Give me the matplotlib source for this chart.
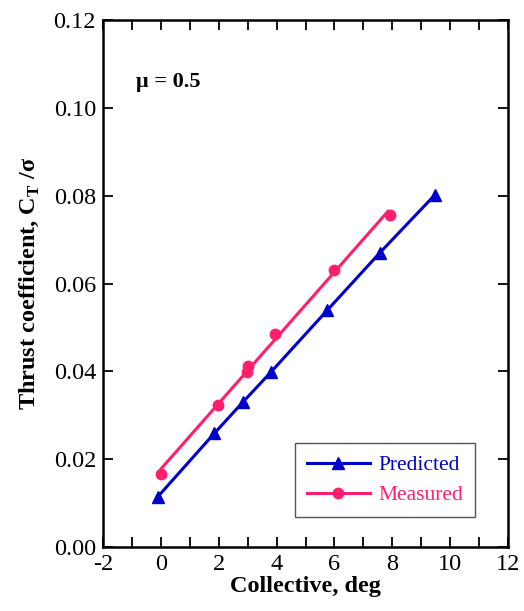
import numpy as np
import matplotlib.pyplot as plt
from matplotlib.lines import Line2D
from matplotlib.ticker import MultipleLocator

plt.rcParams['font.family'] = ['Liberation Serif', 'DejaVu Serif']
plt.rcParams['mathtext.fontset'] = 'custom'
plt.rcParams['mathtext.rm'] = 'Liberation Serif'
plt.rcParams['mathtext.bf'] = 'Liberation Serif:bold'
plt.rcParams['axes.unicode_minus'] = False

# Predicted (triangles)
pred_x = [-0.1, 1.85, 2.85, 3.80, 5.75, 7.57, 9.46]
pred_y = [0.0115, 0.0259, 0.0331, 0.0398, 0.0539, 0.0670, 0.0801]

# Measured (circles)
meas_x = [0.01, 1.96, 2.96, 3.00, 3.96, 5.99, 7.91]
meas_y = [0.0166, 0.0323, 0.0398, 0.0413, 0.0485, 0.0630, 0.0756]

blue = '#0000cc'
pink = '#ff1f6e'

fig = plt.figure(figsize=(5.24, 6.11), dpi=100)
ax = fig.add_axes([0.1966, 0.1047, 0.7729, 0.8626])

ax.plot(pred_x, pred_y, color=blue, lw=2.2, marker='^', ms=8)

# straight line through the measured points
coef = np.polyfit(meas_x, meas_y, 1)
fx = np.array([min(meas_x), 7.85])
ax.plot(fx, np.polyval(coef, fx), color=pink, lw=2.2)
ax.plot(meas_x, meas_y, ls='none', color=pink, marker='o', ms=7.5)

ax.set_xlim(-2, 12)
ax.set_ylim(0, 0.12)
ax.xaxis.set_major_locator(MultipleLocator(2))
ax.xaxis.set_minor_locator(MultipleLocator(1))
ax.yaxis.set_major_locator(MultipleLocator(0.02))
ax.yaxis.set_major_formatter(plt.FuncFormatter(lambda v, p: f'{v:.2f}'))
ax.tick_params(which='both', direction='in', top=True, right=True,
               width=1.3, labelsize=17.5, pad=5)
ax.tick_params(which='major', length=7.5)
ax.tick_params(which='minor', length=7.5)
for s in ax.spines.values():
    s.set_linewidth(1.8)

ax.set_xlabel('Collective, deg', fontsize=17.5, fontweight='bold', labelpad=1)
ax.set_ylabel(r'Thrust coefficient, C$_\mathbf{T}$ /σ', fontsize=17.5,
              fontweight='bold', labelpad=9)

ax.text(-0.85, 0.1058, 'μ = 0.5', fontsize=16, fontweight='bold',
        ha='left', va='center')

handles = [Line2D([], [], color=blue, lw=2.2, marker='^', ms=8),
           Line2D([], [], color=pink, lw=2.2, marker='o', ms=7.5)]
leg = ax.legend(handles, ['Predicted', 'Measured'], loc='lower right',
                bbox_to_anchor=(0.918, 0.057), borderaxespad=0,
                fontsize=15.5, fancybox=False, framealpha=1,
                edgecolor='#555555', handlelength=2.9, handletextpad=0.4,
                borderpad=0.55, labelspacing=0.45)
leg.get_frame().set_linewidth(1.0)
for t, c in zip(leg.get_texts(), [blue, pink]):
    t.set_color(c)

fig.savefig('out.png', dpi=100)
